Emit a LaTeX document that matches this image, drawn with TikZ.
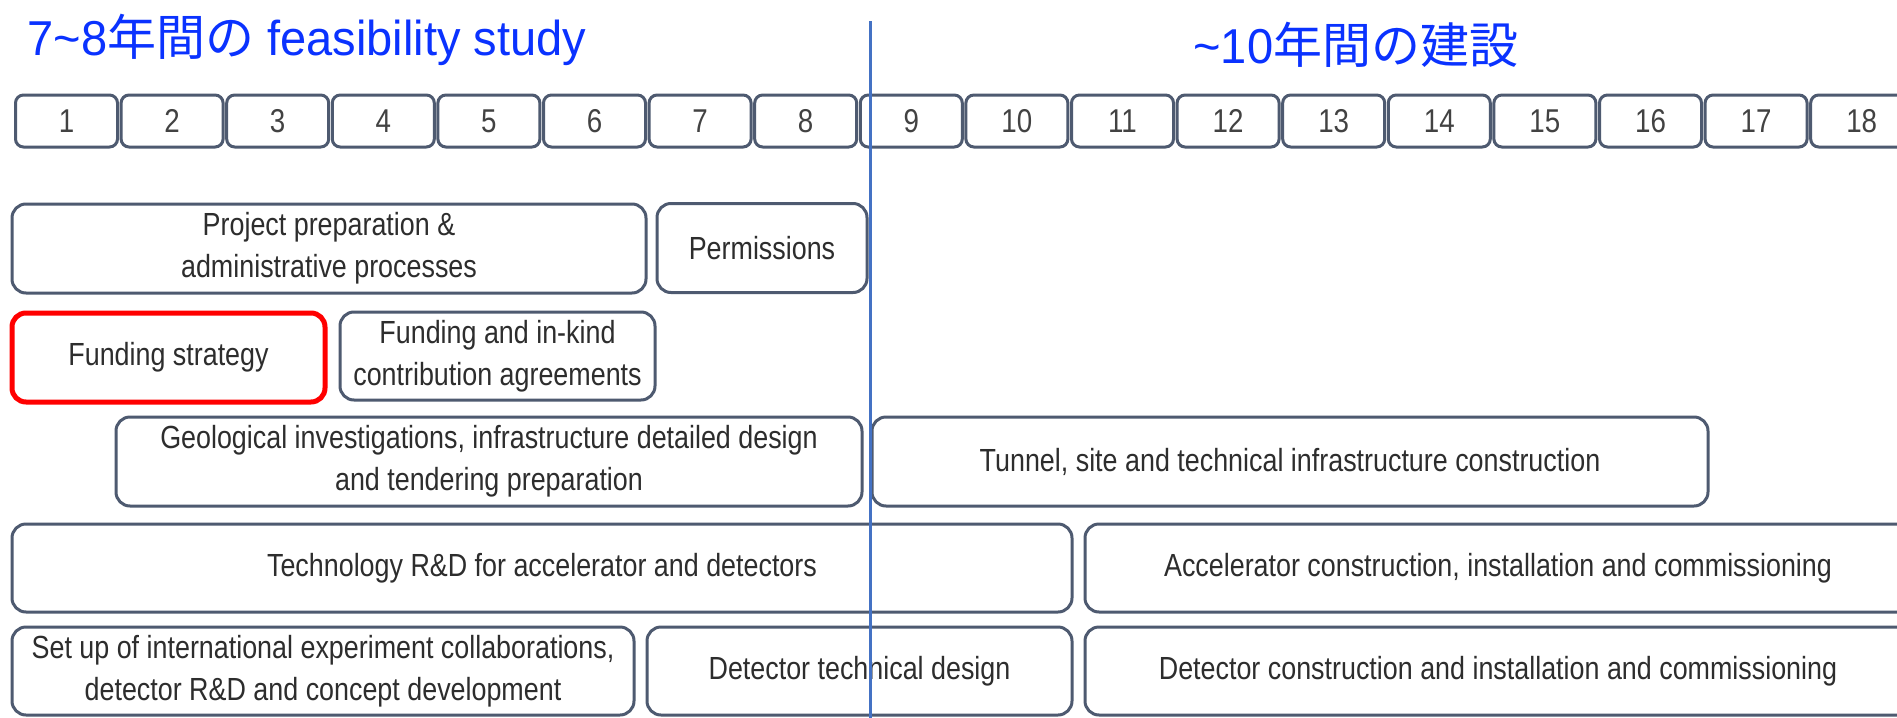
\documentclass[tikz,border=0pt]{standalone}
\usepackage{fontspec}
\setmainfont{Liberation Sans}
\newfontfamily\cjk{Noto Sans CJK JP}
\newfontfamily\condfont[FakeStretch=0.84]{Liberation Sans}
\newfontfamily\headfont[FakeStretch=0.96]{Liberation Sans}
\definecolor{headblue}{RGB}{10,50,255}
\definecolor{divblue}{RGB}{68,114,196}
\definecolor{frame}{RGB}{78,90,112}
\definecolor{ink}{RGB}{45,45,45}
\tikzset{
	yearbox/.style={draw=frame, line width=1.5pt, rounded corners=4pt, fill=white,
		minimum width=51pt, minimum height=26pt, inner sep=0pt, text=ink!90,
		font=\condfont\fontsize{16.5}{20}\selectfont},
	phase/.style={draw=frame, line width=1.5pt, rounded corners=7pt, fill=white,
		minimum height=44.5pt, inner sep=1pt, align=center, text=ink,
		font=\condfont\fontsize{16}{21}\selectfont},
	keyphase/.style={phase, draw=red, line width=2.5pt},
	headline/.style={anchor=base west, inner sep=0pt, text=headblue,
		font=\headfont\fontsize{24.5}{28}\selectfont}
}
\begin{document}
\begin{tikzpicture}[x=0.5pt, y=-0.5pt, line cap=round]
	\clip (0,0) rectangle (1897,718);
	\fill[white] (0,0) rectangle (1897,718);
	% headings
	\node[headline] (feas) at (27,55) {7\textasciitilde 8{\cjk 年間の} feasibility study};
	\node[headline] (build) at (1193,63) {\textasciitilde 10{\cjk 年間の建設}};
	% year scale
	\foreach \n in {1,...,18}
		\node[yearbox] (yr\n) at ({66.5+(\n-1)*105.6},121) {\n};
	% phases
	\node[phase, minimum width=317pt] (prep) at (329,248.5) {Project preparation \&\\administrative processes};
	\node[phase, minimum width=105pt] (perm) at (762,248) {Permissions};
	\node[keyphase, minimum width=156.5pt] (fstrat) at (168.5,357.5) {Funding strategy};
	\node[phase, minimum width=157.5pt, minimum height=44pt] (fagree) at (497.5,356) {Funding and in-kind\\contribution agreements};
	\node[phase, minimum width=373pt] (geo) at (489,461.5) {Geological investigations, infrastructure detailed design\\and tendering preparation};
	\node[phase, minimum width=418pt] (tunnel) at (1290,461.5) {Tunnel, site and technical infrastructure construction};
	\node[phase, minimum width=530pt, minimum height=44pt] (techrd) at (542,568) {Technology R\&D for accelerator and detectors};
	\node[phase, minimum width=413pt, minimum height=44pt] (accel) at (1498,568) {Accelerator construction, installation and commissioning};
	\node[phase, minimum width=311pt, minimum height=44pt] (setup) at (323,671) {Set up of international experiment collaborations,\\detector R\&D and concept development};
	\node[phase, minimum width=212.5pt, minimum height=44pt] (dettech) at (859.5,671) {Detector technical design};
	\node[phase, minimum width=413pt, minimum height=44pt] (detcon) at (1498,671) {Detector construction and installation and commissioning};
	% feasibility / construction divide
	\coordinate (divtop) at (870,21);
	\coordinate (divbot) at (870,718);
	\draw[divblue, line width=1.5pt, line cap=butt] (divtop) -- (divbot);
\end{tikzpicture}
\end{document}
